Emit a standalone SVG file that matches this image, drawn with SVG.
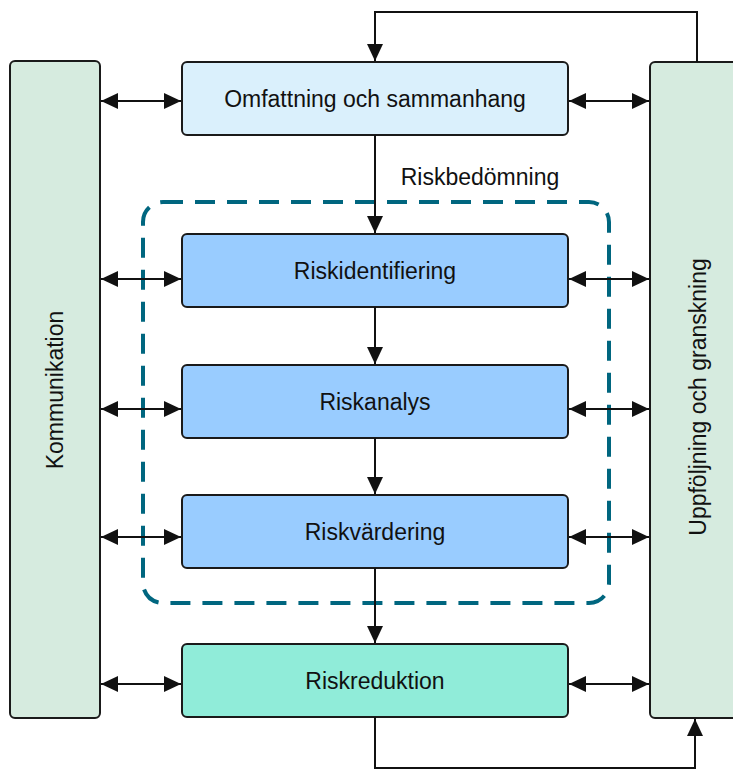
<svg xmlns="http://www.w3.org/2000/svg" width="733" height="769" viewBox="0 0 733 769">
<defs>
<marker id="ah" viewBox="0 0 17 16" refX="17" refY="8" markerWidth="17" markerHeight="16" markerUnits="userSpaceOnUse" orient="auto-start-reverse">
<path d="M0,0 L17,8 L0,16 Z" fill="#111"/>
</marker>
<style>
.box{stroke:#1a1a1a;stroke-width:2}
.side{fill:#d6ebdf}
.scope{fill:#daf0fc}
.blue{fill:#99ccff}
.red{fill:#90ecd9}
.lbl{font-family:"Liberation Sans",Arial,sans-serif;font-size:23px;fill:#111;text-anchor:middle;dominant-baseline:central}
.c{fill:none;stroke:#111;stroke-width:2}
</style>
</defs>
<rect width="733" height="769" fill="#fff"/>
<g id="dashed">
<rect x="143" y="202" width="466" height="401" rx="20" fill="none" stroke="#00667f" stroke-width="4" stroke-dasharray="20,12"/>
<text class="lbl" x="480" y="177">Riskbedömning</text>
</g>
<g id="kommunikation">
<rect class="box side" x="10" y="61" width="90" height="657" rx="5"/>
<text class="lbl" transform="translate(55,390) rotate(-90)">Kommunikation</text>
</g>
<g id="uppfoljning">
<rect class="box side" x="650" y="62" width="95" height="656" rx="5"/>
<text class="lbl" transform="translate(698,397) rotate(-90)">Uppföljning och granskning</text>
</g>
<g id="omfattning">
<rect class="box scope" x="182" y="62" width="386" height="73" rx="5"/>
<text class="lbl" x="375" y="99">Omfattning och sammanhang</text>
</g>
<g id="riskidentifiering">
<rect class="box blue" x="182" y="234" width="386" height="73" rx="5"/>
<text class="lbl" x="375" y="271">Riskidentifiering</text>
</g>
<g id="riskanalys">
<rect class="box blue" x="182" y="365" width="386" height="73" rx="5"/>
<text class="lbl" x="375" y="402">Riskanalys</text>
</g>
<g id="riskvardering">
<rect class="box blue" x="182" y="495" width="386" height="73" rx="5"/>
<text class="lbl" x="375" y="532">Riskvärdering</text>
</g>
<g id="riskreduktion">
<rect class="box red" x="182" y="644" width="386" height="73" rx="5"/>
<text class="lbl" x="375" y="681">Riskreduktion</text>
</g>
<g id="connectors">
<path class="c" d="M697,62 V12 H375 V61" marker-end="url(#ah)"/>
<path class="c" d="M375,717 V768 H695 V719" marker-end="url(#ah)"/>
<path class="c" d="M375,135 V233" marker-end="url(#ah)"/>
<path class="c" d="M375,307 V364" marker-end="url(#ah)"/>
<path class="c" d="M375,438 V494" marker-end="url(#ah)"/>
<path class="c" d="M375,568 V643" marker-end="url(#ah)"/>
<path class="c" d="M101,101 H181" marker-start="url(#ah)" marker-end="url(#ah)"/>
<path class="c" d="M569,101 H649" marker-start="url(#ah)" marker-end="url(#ah)"/>
<path class="c" d="M101,279 H181" marker-start="url(#ah)" marker-end="url(#ah)"/>
<path class="c" d="M569,279 H649" marker-start="url(#ah)" marker-end="url(#ah)"/>
<path class="c" d="M101,409 H181" marker-start="url(#ah)" marker-end="url(#ah)"/>
<path class="c" d="M569,409 H649" marker-start="url(#ah)" marker-end="url(#ah)"/>
<path class="c" d="M101,537 H181" marker-start="url(#ah)" marker-end="url(#ah)"/>
<path class="c" d="M569,537 H649" marker-start="url(#ah)" marker-end="url(#ah)"/>
<path class="c" d="M101,684 H181" marker-start="url(#ah)" marker-end="url(#ah)"/>
<path class="c" d="M569,684 H649" marker-start="url(#ah)" marker-end="url(#ah)"/>
</g>
</svg>
